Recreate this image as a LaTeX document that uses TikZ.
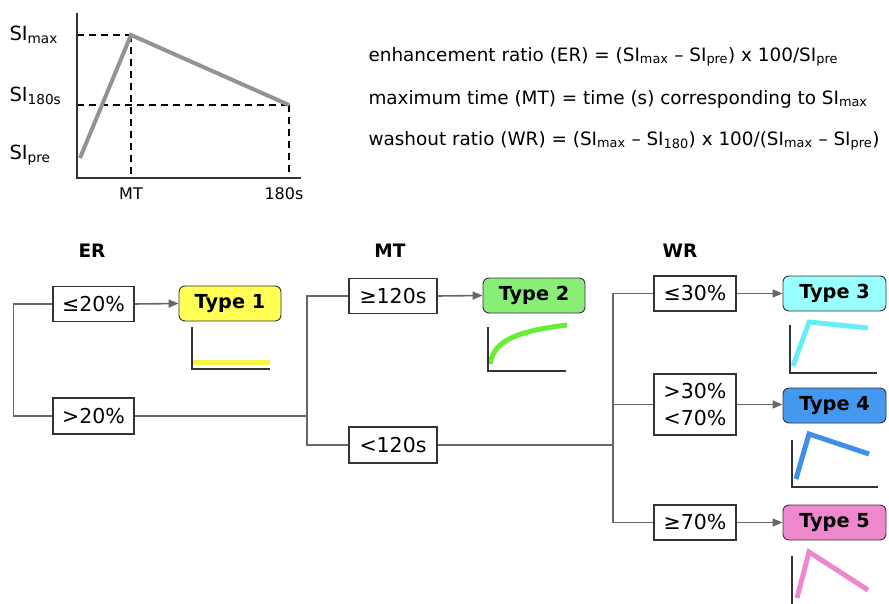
\documentclass[tikz,border=0pt]{standalone}
\usepackage{fontspec}
\setmainfont{DejaVu Sans}
\usetikzlibrary{arrows.meta}
\newcommand\lo[1]{\textsubscript{#1}}
\definecolor{conn}{HTML}{666666}
\definecolor{edge}{HTML}{333333}
\definecolor{axis}{HTML}{333333}
\definecolor{fillA}{HTML}{FFFF55}
\definecolor{lineA}{HTML}{F5F54A}
\definecolor{fillB}{HTML}{88EE77}
\definecolor{lineB}{HTML}{66EE33}
\definecolor{fillC}{HTML}{99FFFF}
\definecolor{lineC}{HTML}{66EEF8}
\definecolor{fillD}{HTML}{4499EE}
\definecolor{lineD}{HTML}{3F8EEA}
\definecolor{fillE}{HTML}{EE88CC}
\definecolor{lineE}{HTML}{EE88CC}
\tikzset{
  cond/.style={draw=edge, line width=1.1pt, fill=white, inner sep=0pt, minimum width=81pt, minimum height=35pt, align=center, font=\fontsize{20.5}{24}\selectfont},
  typebox/.style={draw=edge, line width=0.9pt, rounded corners=6pt, inner sep=0pt, minimum width=103pt, minimum height=35pt, font=\bfseries\fontsize{19.3}{23}\selectfont},
  hdr/.style={font=\bfseries\fontsize{18.5}{22}\selectfont},
  link/.style={draw=conn, line width=1.6pt},
  arr/.style={link, -{Triangle[length=10pt,width=8pt]}},
  miniaxis/.style={draw=axis, line width=2.6pt},
  curve/.style={line width=5pt},
  formula/.style={anchor=west, font=\fontsize{18.4}{21}\selectfont},
  silabel/.style={anchor=west, font=\fontsize{19.5}{23}\selectfont},
  tlabel/.style={font=\fontsize{16}{19}\selectfont}
}
\begin{document}
\begin{tikzpicture}[x=1pt,y=-1pt]
\useasboundingbox (0,0) rectangle (889,604);
% ---------- top chart ----------
\draw[black, line width=1.3pt, dash pattern=on 7pt off 5pt] (77,35) -- (131,35) (77,105) -- (289,105) (131,35) -- (131,178) (289,105) -- (289,178);
\draw[draw=axis, line width=2.2pt] (77,13) -- (77,178) -- (301,178);
\draw[draw=gray!85, line width=4pt, line join=miter] (80,158) -- (131,35) -- (289,105);
\node[silabel] (simax) at (6,35) {SI\lo{max}};
\node[silabel] (si180) at (6,96) {SI\lo{180s}};
\node[silabel] (sipre) at (6,155) {SI\lo{pre}};
\node[tlabel] (mtl) at (131,194) {MT};
\node[tlabel] (s180) at (284,194) {180s};
% ---------- formulas ----------
\node[formula] (f1) at (365,57) {enhancement ratio (ER) = (SI\lo{max} – SI\lo{pre}) x 100/SI\lo{pre}};
\node[formula] (f2) at (365,99) {maximum time (MT) = time (s) corresponding to SI\lo{max}};
\node[formula] (f3) at (365,141) {washout ratio (WR) = (SI\lo{max} – SI\lo{180}) x 100/(SI\lo{max} – SI\lo{pre})};
% ---------- headers ----------
\node[hdr] (her) at (92,251) {ER};
\node[hdr] (hmt) at (390,251) {MT};
\node[hdr] (hwr) at (680,251) {WR};
% ---------- condition boxes ----------
\node[cond] (le20) at (93.5,304) {≤20\%};
\node[cond, minimum height=36pt] (gt20) at (93.5,416) {>20\%};
\node[cond, minimum width=88pt] (ge120) at (393,296) {≥120s};
\node[cond, minimum width=88pt, minimum height=36pt] (lt120) at (393,445) {<120s};
\node[cond, minimum width=82pt] (le30) at (695,293.5) {≤30\%};
\node[cond, minimum width=82pt, minimum height=61pt, font=\fontsize{20.5}{27}\selectfont] (mid) at (695,404.5) {>30\%\\<70\%};
\node[cond, minimum width=82pt] (ge70) at (695,522.5) {≥70\%};
% ---------- type boxes ----------
\node[typebox, fill=fillA, minimum width=102pt] (t1) at (230,303.5) {Type 1};
\node[typebox, fill=fillB, minimum width=102pt] (t2) at (534,295.5) {Type 2};
\node[typebox, fill=fillC] (t3) at (834.5,293.5) {Type 3};
\node[typebox, fill=fillD] (t4) at (834.5,405.5) {Type 4};
\node[typebox, fill=fillE] (t5) at (834.5,522.5) {Type 5};
% ---------- connectors ----------
\coordinate (mtbar) at (307,0);
\coordinate (wrbar) at (613,0);
\draw[link] (le20.west) -- ++(-39,0) |- (gt20.west);
\draw[link] (gt20.east) -- (gt20.east -| mtbar);
\draw[link] (ge120.west) -- (ge120.west -| mtbar) |- (lt120.west);
\draw[link] (lt120.east) -- (lt120.east -| wrbar);
\draw[link] (le30.west) -- (le30.west -| wrbar) |- (ge70.west);
\draw[link] (mid.west) -- (mid.west -| wrbar);
\draw[arr] (le20.east) -- (t1.west);
\draw[arr] (ge120.east) -- (t2.west);
\draw[arr] (le30.east) -- (t3.west);
\draw[arr] (mid.east) -- (mid.east -| t4.west);
\draw[arr] (ge70.east) -- (t5.west);
% ---------- mini charts ----------
% type 1
\draw[draw=lineA, curve] (193,362) -- (270,362);
\draw[miniaxis] (192,327) -- (192,369) -- (270,369);
% type 2
\draw[draw=lineB, curve] (490,364) .. controls (494,340) and (518,331) .. (567,325);
\draw[miniaxis] (488,327) -- (488,371) -- (566,371);
% type 3
\draw[draw=lineC, curve, line join=miter] (793,366) -- (809,322) -- (868,328);
\draw[miniaxis] (790,325) -- (790,373) -- (877,373);
% type 4
\draw[draw=lineD, curve, line join=miter] (796,479) -- (809,434) -- (869,454);
\draw[miniaxis] (792,440) -- (792,487) -- (878,487);
% type 5
\draw[draw=lineE, curve, line join=miter] (797,598) -- (809,552) -- (868,590);
\draw[miniaxis] (792,556) -- (792,604);
\end{tikzpicture}
\end{document}
